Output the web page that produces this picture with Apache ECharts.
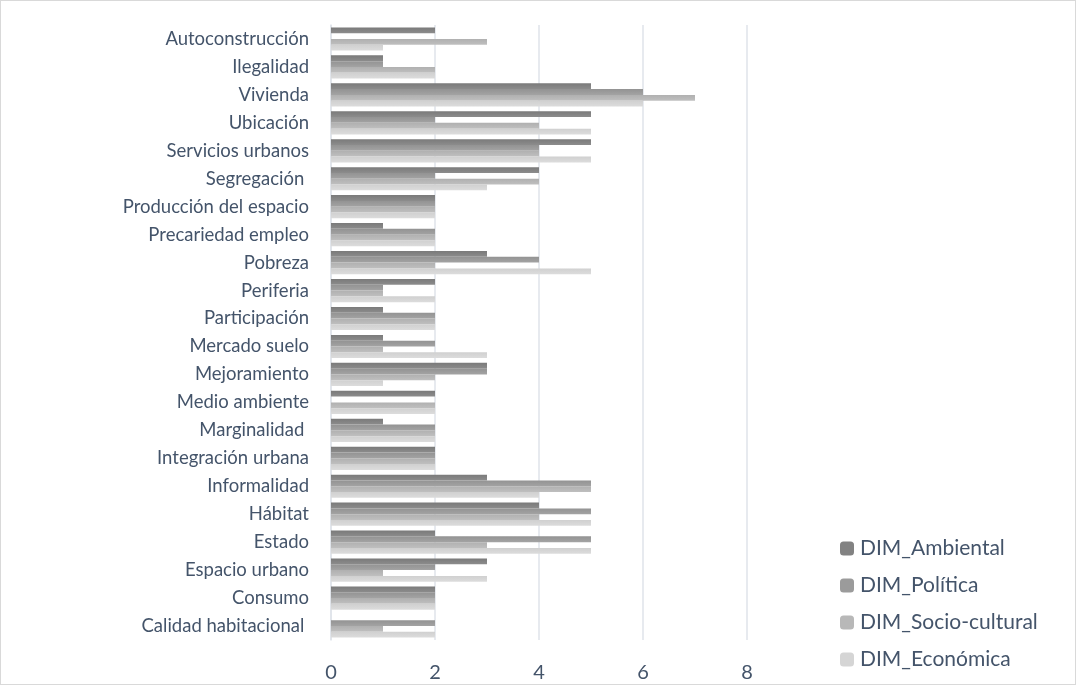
<!DOCTYPE html>
<html><head><meta charset="utf-8">
<script src="https://cdn.jsdelivr.net/npm/echarts@6/dist/echarts.min.js"></script>
<style>html,body{margin:0;padding:0;background:#fff}#c{width:1076px;height:685px;box-sizing:border-box;border:1px solid #d9d9d9}</style>
</head><body><div id="c"></div>
<script>
const categories = ["Autoconstrucción","Ilegalidad","Vivienda","Ubicación","Servicios urbanos","Segregación ","Producción del espacio","Precariedad empleo","Pobreza","Periferia","Participación","Mercado suelo","Mejoramiento","Medio ambiente","Marginalidad ","Integración urbana","Informalidad","Hábitat","Estado","Espacio urbano","Consumo","Calidad habitacional "];
const ambiental =    [2,1,5,5,5,4,2,1,3,2,1,1,3,2,1,2,3,4,2,3,2,0];
const politica =     [0,1,6,2,4,2,2,2,4,1,2,2,3,0,2,2,5,5,5,2,2,2];
const sociocultural =[3,2,7,4,4,4,2,2,2,1,2,1,2,2,2,2,5,4,3,1,2,1];
const economica =    [1,2,6,5,5,3,2,2,5,2,2,3,1,2,2,2,4,5,5,3,2,2];
const seriesNames = ["DIM_Ambiental","DIM_Política","DIM_Socio-cultural","DIM_Económica"];
const xTicks = [0,2,4,6,8];

function grad(a,b){return new echarts.graphic.LinearGradient(0,0,0,1,[{offset:0,color:a},{offset:1,color:b}]);}
const colors = [grad('#7a7a7a','#8c8c8c'),grad('#939393','#a3a3a3'),grad('#b0b0b0','#bfbfbf'),grad('#d0d0d0','#dcdcdc')];
const legendColors = ['#828282','#9b9b9b','#b8b8b8','#d5d5d5'];
const dataSets = [ambiental,politica,sociocultural,economica];

const chart = echarts.init(document.getElementById('c'));
chart.setOption({
  animation:false,
  textStyle:{fontFamily:'Lato'},
  grid:{left:330,right:328,top:24,bottom:44,containLabel:false},
  legend:{orient:'vertical',left:834,top:532,itemWidth:14,itemHeight:14,itemGap:16,
    textStyle:{color:'#44546a',fontSize:21,fontFamily:'Lato',padding:[0,0,0,1]},
    data:seriesNames.map((n,i)=>({name:n,itemStyle:{color:legendColors[i]}}))},
  xAxis:{type:'value',min:xTicks[0],max:xTicks[xTicks.length-1],interval:2,
    axisLine:{show:false},axisTick:{show:false},
    splitLine:{lineStyle:{color:'#dfe3ea',width:1.5}},
    axisLabel:{color:'#44546a',fontSize:20,margin:23,fontFamily:'Lato'}},
  yAxis:{type:'category',data:categories,inverse:true,
    axisLine:{show:true,lineStyle:{color:'#dfe3ea',width:1.5}},axisTick:{show:false},
    axisLabel:{color:'#44546a',fontSize:18.5,margin:22,fontFamily:'Lato'}},
  series:dataSets.map((d,i)=>({name:seriesNames[i],type:'bar',data:d,barGap:'0%',barCategoryGap:'17%',
    itemStyle:{color:colors[i]}}))
});
</script></body></html>
